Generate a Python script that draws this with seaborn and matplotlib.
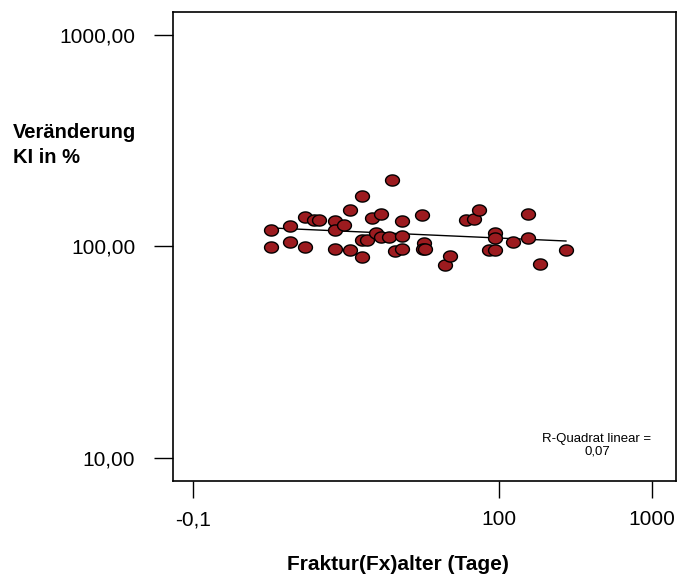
import numpy as np
import pandas as pd
import matplotlib
matplotlib.use("Agg")
import matplotlib.pyplot as plt
from matplotlib.path import Path
import seaborn as sns

# Data (x: fracture age in days, y: change in %)
fx_age = [3.23, 3.23, 4.32, 4.32, 5.37, 5.37, 6.2, 6.7, 8.51, 8.51,
          8.51, 9.66, 10.6, 10.6, 12.8, 12.8, 12.8, 13.8, 14.8, 15.7,
          17.0, 17.0, 19.2, 20.1, 21.0, 23.1, 23.1, 23.1, 31.5, 32.4,
          31.8, 33.0, 44.6, 47.8, 60.9, 68.7, 73.7, 86.1, 94.2, 94.2,
          94.2, 124, 155, 155, 185, 275]
change_pct = [119.3, 99.5, 125.4, 105.4, 137.9, 99.5, 133.0, 133.0, 131.5, 119.7,
              97.3, 126.4, 148.3, 96.0, 173.8, 107.0, 89.2, 107.0, 136.8, 115.8,
              142.9, 111.3, 111.3, 207.0, 94.9, 132.4, 111.7, 97.0, 140.9, 103.5,
              97.0, 97.0, 81.5, 89.9, 133.9, 135.3, 148.3, 96.0, 96.0, 116.2,
              110.0, 104.7, 142.9, 109.3, 82.9, 96.0]

x_ticks = [1, 100, 1000]
x_tick_labels = ["-0,1", "100", "1000"]
y_ticks = [10, 100, 1000]
y_tick_labels = ["10,00", "100,00", "1000,00"]
r2_text = "R-Quadrat linear =\n0,07"

df = pd.DataFrame({"x": fx_age, "y": change_pct})

sns.set_style("white")
plt.rcParams["font.family"] = ["Liberation Sans", "DejaVu Sans"]

fig = plt.figure(figsize=(6.8, 5.79), dpi=100)
ax = fig.add_axes([0.2544, 0.1693, 0.9941 - 0.2544, 0.9793 - 0.1693])

# ellipse marker
t = np.linspace(0, 2 * np.pi, 60)
ell = Path(np.column_stack([np.cos(t), 0.8 * np.sin(t)]), closed=True)

# regression line in log-log space
lx = np.log10(df["x"].values)
ly = np.log10(df["y"].values)
b, a = np.polyfit(lx, ly, 1)
xs = np.array([df["x"].min(), df["x"].max()])
fit = pd.DataFrame({"x": xs, "y": 10 ** (a + b * np.log10(xs))})
sns.lineplot(data=fit, x="x", y="y", ax=ax, color="black", linewidth=1.0, zorder=2)

sns.scatterplot(data=df, x="x", y="y", ax=ax, marker=ell, s=100,
                color="#9c1b1f", edgecolor="black", linewidth=1.0, zorder=3)

ax.set_xscale("log")
ax.set_yscale("log")
ax.set_xlim(10 ** -0.1307, 10 ** 3.157)
ax.set_ylim(10 ** 0.8913, 10 ** 3.1087)
ax.set_xticks(x_ticks)
ax.set_xticklabels(x_tick_labels)
ax.set_yticks(y_ticks)
ax.set_yticklabels(y_tick_labels)
ax.minorticks_off()
ax.tick_params(axis="both", which="major", direction="out", width=1.0,
               color="black", labelsize=15, labelcolor="black",
               bottom=True, left=True, top=False, right=False)
ax.tick_params(axis="x", length=12.2, pad=9)
ax.tick_params(axis="y", length=13.7, pad=13.5)
for sp in ax.spines.values():
    sp.set_color("black")
    sp.set_linewidth(1.2)
    sp.set_visible(True)

ax.set_xlabel("")
ax.set_ylabel("")
fig.text(398 / 680, 1 - 565 / 579, "Fraktur(Fx)alter (Tage)", ha="center", va="center",
         fontsize=15, fontweight="bold", color="black")
fig.text(13 / 680, 1 - 145 / 579, "Veränderung\nKI in %", ha="left", va="center",
         fontsize=14.5, fontweight="bold", color="black", linespacing=1.4)
fig.text(597 / 680, 1 - 445 / 579, r2_text, ha="center", va="center",
         fontsize=9.5, color="black", linespacing=1.05)

fig.savefig("out.png", dpi=100)
